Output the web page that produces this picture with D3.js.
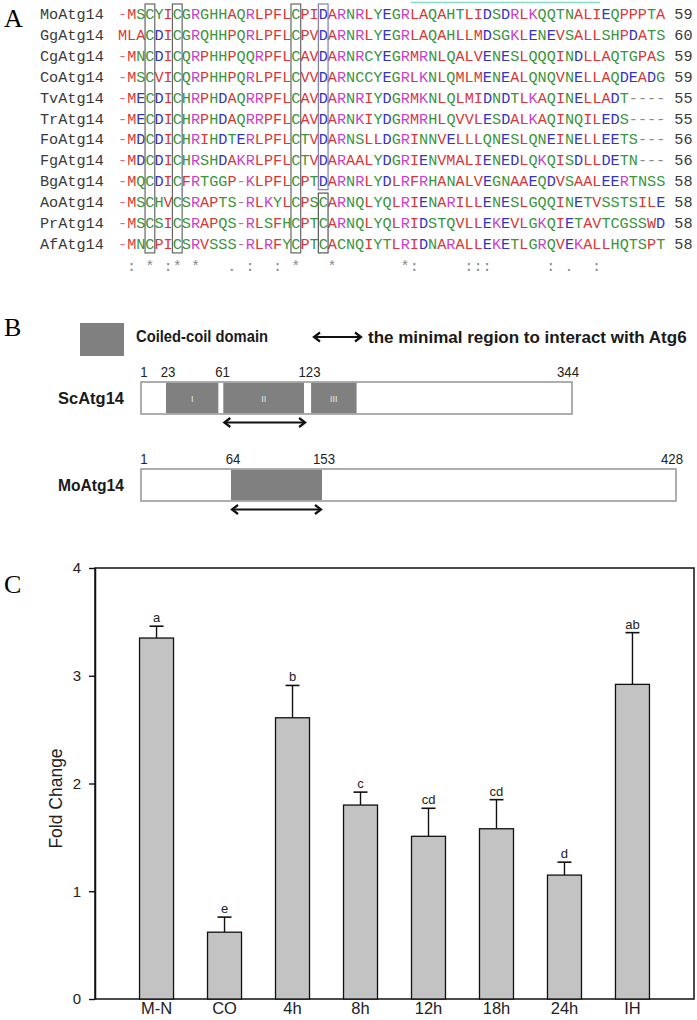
<!DOCTYPE html>
<html><head><meta charset="utf-8">
<script src="https://cdn.jsdelivr.net/npm/d3@7"></script>
<style>body{margin:0;background:#fff} svg{display:block}</style>
</head><body><svg id="fig" width="697" height="1020"></svg>
<script>
// ================= Panel A data =================
const alignNames = ["MoAtg14","GgAtg14","CgAtg14","CoAtg14","TvAtg14","TrAtg14","FoAtg14","FgAtg14","BgAtg14","AoAtg14","PrAtg14","AfAtg14"];
const alignSeqs = [
  "-MSCYICGRGHHAQRLPFLCPIDARNRLYEGRLAQAHTLIDSDRLKQQTNALIEQPPPTA",
  "MLACDICGRQHHPQRLPFLCPVDARNRLYEGRLAQAHLLMDSGKLENEVSALLSHPDATS",
  "-MNCDICQRPHHPQQRPFLCAVDARNRCYEGRMRNLQALVENESLQQQINDLLAQTGPAS",
  "-MSCVICQRPHHPQRLPFLCVVDARNCCYEGRLKNLQMLMENEALQNQVNELLAQDEADG",
  "-MECDICHRPHDAQRRPFLCAVDARNRIYDGRMKNLQLMIDNDTLKAQINELLADT----",
  "-MECDICHRPHDAQRRPFLCAVDARNKIYDGRMRHLQVVLESDALKAQINQILEDS----",
  "-MDCDICHRIHDTERLPFLCTVDARNSLLDGRINNVELLLQNESLQNEINELLEETS---",
  "-MDCDICHRSHDAKRLPFLCTVDARAALYDGRIENVMALIENEDLQKQISDLLDETN---",
  "-MQCDICFRTGGP-KLPFLCPTDARNRLYDLRFRHANALVEGNAAEQDVSAALEERTNSS",
  "-MSCHVCSRAPTS-RLKYLCPSCARNQLYQLRIENARILLENESLGQQINETVSSTSILE",
  "-MSCSICSRAPQS-RLSFHCPTCARNQLYQLRIDSTQVLLEKEVLGKQIETAVTCGSSWD",
  "-MNCPICSRVSSS-RLRFYCPTCACNQIYTLRIDNARALLEKETLGRQVEKALLHQTSPT"
];
const alignEnds = [59,60,59,59,55,55,56,56,58,58,58,58];
const consensusCols = [1,3,5,6,8,12,14,17,19,23,31,32,38,39,40,47,49,52];
const consensusSyms = [":","*",":","*","*",".",":",":","*","*","*",":",":",":",":",":",".",":"];
const boxedCols = [3, 6, 19];          // boxed across all sequences
const splitCol = 22, splitRow = 9;     // column boxed in two parts (D block / C block)
const helixSpan = [32, 52];            // overlined region

// ================= Panel B data =================
const scMarks = [1, 23, 61, 123, 344];
const scDomains = [{label:"I", start:23, end:59.5},{label:"II", start:63, end:120.5},{label:"III", start:126, end:164}];
const scArrow = [63, 122];
const moMarks = [1, 64, 153, 428];
const moDomains = [{label:"", start:64, end:153}];
const moArrow = [64, 153];

// ================= Panel C data =================
const categories = ["M-N","CO","4h","8h","12h","18h","24h","IH"];
const foldChange = [3.35, 0.62, 2.61, 1.80, 1.51, 1.58, 1.15, 2.92];
const errUpper   = [0.11, 0.14, 0.30, 0.12, 0.26, 0.27, 0.12, 0.48];
const sigLetters = ["a","e","b","c","cd","cd","d","ab"];
const yTicks = [0, 1, 2, 3, 4];

// =================================================
(function(){
const svg = d3.select("#fig");

// ---------- Panel A ----------
const A = svg.append("g");
const fs = 15.2, cw = 0.6 * fs, nameX = 40, seqX = 118, rowY0 = 14, rowH = 20.9;
const RED="#dc3535", GREEN="#3a963c", BLUE="#3434c4", MAG="#cc3fcc", GRAY="#8a8a8a";
function aaColor(ch, i) {
  if ("AVFPMILW".includes(ch)) return RED;
  if ("DE".includes(ch)) return BLUE;
  if ("RK".includes(ch)) return MAG;
  if ("STYHCNGQ".includes(ch)) return GREEN;
  if (ch === "-") return i === 0 ? "#e06a7a" : GRAY;
  return GRAY;
}
const rowY = i => rowY0 + i * rowH;
function runs(str, colorFn) {
  const out = [];
  str.split("").forEach((c, i) => {
    const col = colorFn(c, i);
    if (out.length && out[out.length-1].col === col) out[out.length-1].t += c;
    else out.push({t: c, col});
  });
  return out;
}
function drawRow(g, str, x0, y, colorFn) {
  const t = g.append("text").attr("x", x0).attr("y", y).attr("xml:space", "preserve").style("white-space", "pre");
  t.selectAll("tspan").data(runs(str, colorFn)).join("tspan").attr("fill", d => d.col).text(d => d.t);
}
A.attr("font-family", "'Liberation Mono', 'DejaVu Sans Mono', monospace").attr("font-size", fs);
alignNames.forEach((n, r) => {
  drawRow(A, n, nameX, rowY(r) + 5, () => "#3a3a3a");
  drawRow(A, alignSeqs[r], seqX, rowY(r) + 5, aaColor);
  drawRow(A, String(alignEnds[r]), seqX + 61 * cw, rowY(r) + 5, () => "#3a3a3a");
});
const cons = Array(60).fill(" ");
consensusCols.forEach((c, i) => cons[c] = consensusSyms[i]);
drawRow(A, cons.join(""), seqX, rowY(alignNames.length) + 6, () => "#8a8a8a");
// boxes
const boxG = A.append("g").attr("fill", "none").attr("stroke-width", 1.2);
boxedCols.forEach(c => {
  boxG.append("rect").attr("x", seqX + c*cw - 0.3).attr("width", cw + 0.6)
    .attr("y", rowY(0) - 10).attr("height", rowY(alignNames.length-1) - rowY(0) + 19).attr("stroke", "#666");
});
boxG.append("rect").attr("x", seqX + splitCol*cw - 0.3).attr("width", cw + 0.6)
  .attr("y", rowY(0) - 10).attr("height", rowY(splitRow-1) - rowY(0) + 18.5).attr("stroke", "#7d7db5");
boxG.append("rect").attr("x", seqX + splitCol*cw - 0.3).attr("width", cw + 0.6)
  .attr("y", rowY(splitRow) - 9).attr("height", rowY(alignNames.length-1) - rowY(splitRow) + 18).attr("stroke", "#555");
A.append("line").attr("x1", seqX + helixSpan[0]*cw + 1).attr("x2", seqX + (helixSpan[1]+1)*cw - 1)
  .attr("y1", 2.5).attr("y2", 2.5).attr("stroke", "#86d8c8").attr("stroke-width", 1.6);

// panel letters
const letters = [["A", 27], ["B", 336], ["C", 593]];
svg.append("g").attr("font-family", "'Liberation Serif', serif").attr("font-size", 26)
  .selectAll("text").data(letters).join("text").attr("x", 4).attr("y", d => d[1]).text(d => d[0]);

// ---------- Panel B ----------
const B = svg.append("g").attr("font-family", "'Liberation Sans', Arial, sans-serif");
function fitText(sel, target) {
  sel.each(function(){ const w = this.getComputedTextLength(); if (w > target * 1.03 || w < target * 0.95) { this.setAttribute("textLength", target); this.setAttribute("lengthAdjust", "spacingAndGlyphs"); } });
}
function chevronArrow(g, x1, x2, yy) {
  g.append("line").attr("x1", x1 + 1).attr("x2", x2 - 1).attr("y1", yy).attr("y2", yy).attr("stroke", "#111").attr("stroke-width", 2.2);
  g.append("path").attr("d", `M${x1+7},${yy-4.5} L${x1+1},${yy} L${x1+7},${yy+4.5}`).attr("fill", "none").attr("stroke", "#111").attr("stroke-width", 2.2);
  g.append("path").attr("d", `M${x2-7},${yy-4.5} L${x2-1},${yy} L${x2-7},${yy+4.5}`).attr("fill", "none").attr("stroke", "#111").attr("stroke-width", 2.2);
}
// legend
B.append("rect").attr("x", 80).attr("y", 323).attr("width", 44).attr("height", 33).attr("fill", "#808080");
B.append("text").attr("x", 136).attr("y", 342).attr("font-size", 16).attr("font-weight", "bold").attr("fill", "#1a1a1a")
  .text("Coiled-coil domain").call(fitText, 132);
chevronArrow(B, 313, 362, 337);
B.append("text").attr("x", 368).attr("y", 343).attr("font-size", 17).attr("font-weight", "bold").attr("fill", "#1a1a1a")
  .text("the minimal region to interact with Atg6").call(fitText, 320);

function protein(name, marks, domains, arrow, range, y0, h) {
  const px = d3.scaleLinear().domain(marks).range(range);
  const g = B.append("g");
  g.append("text").attr("x", 124).attr("y", y0 + h/2 + 6).attr("text-anchor", "end")
    .attr("font-size", 17).attr("font-weight", "bold").attr("fill", "#1a1a1a").text(name).call(fitText, 66);
  g.append("rect").attr("x", px(marks[0])).attr("y", y0).attr("width", px(marks[marks.length-1]) - px(marks[0])).attr("height", h)
    .attr("fill", "#fff").attr("stroke", "#9a9a9a").attr("stroke-width", 1.6);
  g.selectAll(".dom").data(domains).join("rect").attr("class", "dom")
    .attr("x", d => px(d.start)).attr("width", d => px(d.end) - px(d.start))
    .attr("y", y0 + 0.8).attr("height", h - 1.6).attr("fill", "#808080");
  g.selectAll(".dl").data(domains).join("text").attr("class", "dl")
    .attr("x", d => (px(d.start) + px(d.end)) / 2).attr("y", y0 + h/2 + 4).attr("text-anchor", "middle")
    .attr("font-size", 9).attr("fill", "#e8e8e8").text(d => d.label);
  g.selectAll(".ml").data(marks).join("text").attr("class", "ml")
    .attr("x", (d, i) => px(d) + (i === 0 ? 3 : i === marks.length - 1 ? -4 : 2))
    .attr("y", y0 - 5).attr("text-anchor", "middle").attr("font-size", 15).attr("fill", "#222")
    .text(d => d).each(function(){ const w=this.getComputedTextLength(); this.setAttribute("textLength", w*0.88); this.setAttribute("lengthAdjust","spacingAndGlyphs"); });
  chevronArrow(g, px(arrow[0]), px(arrow[1]), y0 + h + 8.5);
}
protein("ScAtg14", scMarks, scDomains, scArrow, [141, 166, 220.5, 307.5, 572], 382, 32);
protein("MoAtg14", moMarks, moDomains, moArrow, [141, 231, 322, 676], 469, 32);

// ---------- Panel C ----------
const C = svg.append("g").attr("font-family", "'Liberation Sans', Arial, sans-serif");
const pL = 95, pR = 694, pT = 568, pB = 999;
const x = d3.scaleBand().domain(categories).range([pL, pR]).paddingInner(0.5).paddingOuter(0.655);
const y = d3.scaleLinear().domain([0, 4]).range([pB, pT]);

C.append("rect").attr("x", pL).attr("y", pT).attr("width", pR - pL).attr("height", pB - pT)
  .attr("fill", "none").attr("stroke", "#111").attr("stroke-width", 1.5);

const data = categories.map((c, i) => ({c, v: foldChange[i], e: errUpper[i], s: sigLetters[i]}));
C.selectAll(".eb").data(data).join("line").attr("class", "eb")
  .attr("x1", d => x(d.c) + x.bandwidth()/2).attr("x2", d => x(d.c) + x.bandwidth()/2)
  .attr("y1", d => y(d.v)).attr("y2", d => y(d.v + d.e)).attr("stroke", "#111").attr("stroke-width", 1.4);
C.selectAll(".cap").data(data).join("line").attr("class", "cap")
  .attr("x1", d => x(d.c) + x.bandwidth()/2 - 7).attr("x2", d => x(d.c) + x.bandwidth()/2 + 7)
  .attr("y1", d => y(d.v + d.e)).attr("y2", d => y(d.v + d.e)).attr("stroke", "#111").attr("stroke-width", 1.6);
C.selectAll(".bar").data(data).join("rect").attr("class", "bar")
  .attr("x", d => x(d.c)).attr("width", x.bandwidth())
  .attr("y", d => y(d.v)).attr("height", d => y(0) - y(d.v))
  .attr("fill", "#c3c3c3").attr("stroke", "#111").attr("stroke-width", 1.3);
C.selectAll(".sig").data(data).join("text").attr("class", "sig")
  .attr("x", d => x(d.c) + x.bandwidth()/2).attr("y", d => y(d.v + d.e) - 4)
  .attr("text-anchor", "middle").attr("font-size", 13).attr("fill", "#222").text(d => d.s);

const yAxis = C.append("g").attr("transform", `translate(${pL},0)`)
  .call(d3.axisLeft(y).tickValues(yTicks).tickFormat(d3.format("d")).tickSize(6).tickPadding(8).tickSizeOuter(0));
yAxis.select(".domain").attr("stroke", "#111").attr("stroke-width", 1.5);
yAxis.selectAll(".tick line").attr("stroke", "#111").attr("stroke-width", 1.4);
yAxis.selectAll("text").attr("font-size", 15).attr("fill", "#222").attr("font-family", "'Liberation Sans', Arial, sans-serif");

const xAxis = C.append("g").attr("transform", `translate(0,${pB})`)
  .call(d3.axisBottom(x).tickSize(0).tickPadding(3).tickSizeOuter(0));
xAxis.select(".domain").remove();
xAxis.selectAll("text").attr("font-size", 16.5).attr("fill", "#222").attr("font-family", "'Liberation Sans', Arial, sans-serif");

C.append("text").attr("transform", `translate(62,${(pT + pB)/2 + 15}) rotate(-90)`)
  .attr("text-anchor", "middle").attr("font-size", 17.5).attr("fill", "#222").text("Fold Change");
})();
</script></body></html>
